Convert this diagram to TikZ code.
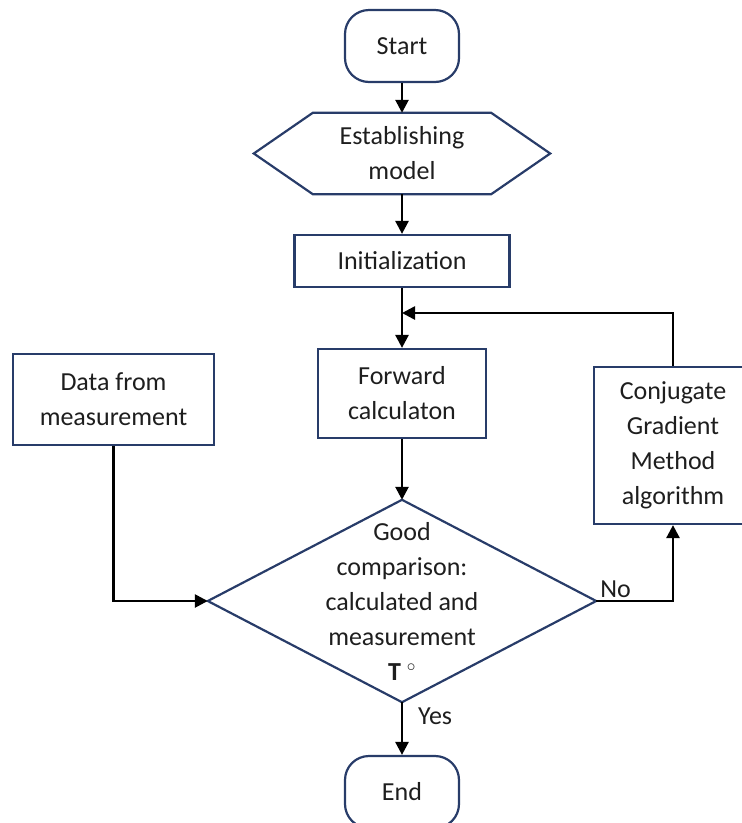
\documentclass[tikz,border=0pt]{standalone}
\usepackage{fontspec}
\setmainfont{Carlito}
\usetikzlibrary{calc}
\usetikzlibrary{arrows.meta}
\definecolor{boxblue}{RGB}{40,60,105}
\definecolor{textgray}{RGB}{30,30,30}
\tikzstyle{block}=[draw=boxblue,line width=2.2pt,text=textgray,align=center,inner sep=0pt]
\tikzstyle{terminal}=[block,rounded corners=24pt,minimum width=114pt,minimum height=72pt]
\tikzstyle{shapeonly}=[text=textgray,align=center,inner sep=0pt]
\tikzstyle{flow}=[line width=2.6pt,-{Triangle[length=13pt,width=13pt]}]
\newcommand{\drawhexagon}[2]{% Syntax: {node name}{point depth}
  \draw[block] ($(#1.north west)+(#2,0)$) -- ($(#1.north east)+(-#2,0)$) -- (#1.east)
    -- ($(#1.south east)+(-#2,0)$) -- ($(#1.south west)+(#2,0)$) -- (#1.west) -- cycle;
}
\begin{document}
\begin{tikzpicture}[x=1pt,y=-1pt,font=\fontsize{26}{35}\selectfont]
\useasboundingbox (0,0) rectangle (742,823);
% draw nodes
\node[terminal] (start) at (402,46) {Start};
\node[shapeonly,minimum width=296pt,minimum height=81pt] (model) at (402,153.5) {Establishing\\model};
\drawhexagon{model}{59}
\node[block,minimum width=215pt,minimum height=52pt] (init) at (402,261) {Initialization};
\node[block,minimum width=168pt,minimum height=89pt] (fwd) at (402,393.5) {Forward\\calculaton};
\node[block,minimum width=201pt,minimum height=91pt] (data) at (113.5,399.5) {Data from\\measurement};
\node[block,minimum width=158pt,minimum height=157pt] (cgm) at (673,445.5) {Conjugate\\Gradient\\Method\\algorithm};
% decision
\node[shapeonly,minimum width=388pt,minimum height=202pt] (cmp) at (402,601) {Good\\comparison:\\calculated and\\measurement\\\textbf{T} $^\circ$};
\draw[block] (cmp.north) -- (cmp.east) -- (cmp.south) -- (cmp.west) -- cycle;
\node[terminal] (end) at (402,792) {End};
% connectors
\coordinate (loop) at (402,313);
\draw[flow] (start) -- (model);
\draw[flow] (model) -- (init);
\draw[flow] (init) -- (fwd);
\draw[flow] (cgm.north) |- (loop);
\draw[flow] (fwd) -- (cmp);
\draw[flow] (data.south) |- (cmp.west);
\draw[flow] (cmp.east) -| (cgm.south);
\draw[flow] (cmp.south) -- (end.north);
% branch labels
\node[anchor=base west,inner sep=0pt,text=textgray] (no) at ($(cmp.east)+(4,-4)$) {No};
\node[anchor=base west,inner sep=0pt,text=textgray] (yes) at ($(cmp.south)+(16,22)$) {Yes};
\end{tikzpicture}
\end{document}
